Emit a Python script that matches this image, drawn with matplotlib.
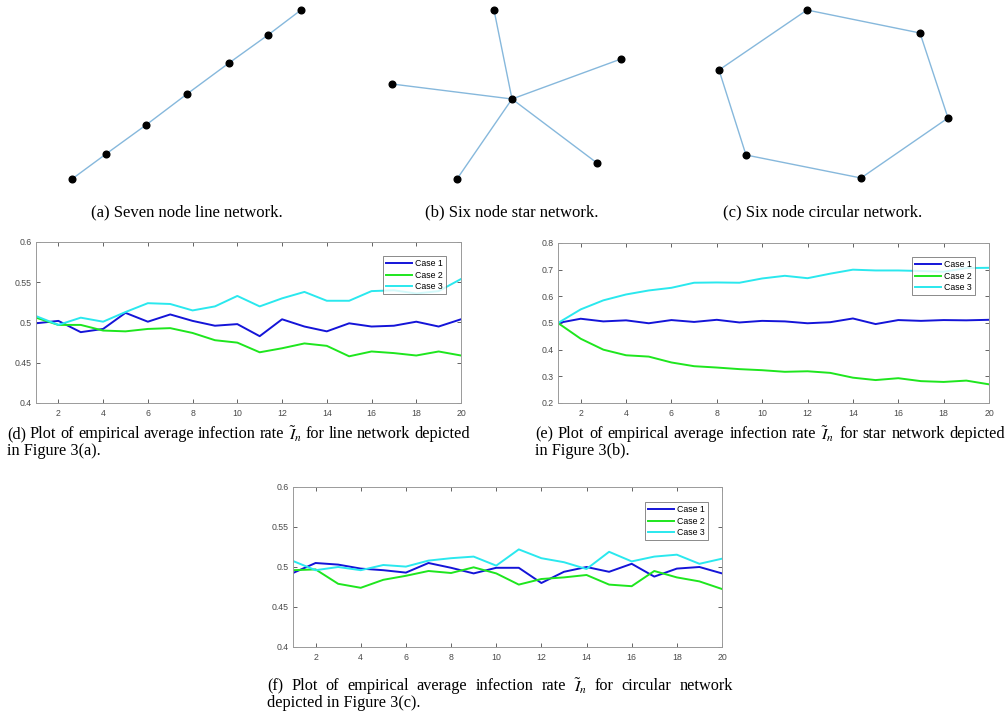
import numpy as np
import matplotlib
matplotlib.use("Agg")
import matplotlib.pyplot as plt

plt.rcParams["mathtext.fontset"] = "stix"

W, H = 1008, 713

# ---- network layouts (node positions, y grows downward) ----
line_nodes_x = [72, 106, 146, 187, 229, 268, 301]
line_nodes_y = [179, 154, 125, 94, 63, 35, 10]
line_edges = [(0, 1), (1, 2), (2, 3), (3, 4), (4, 5), (5, 6)]

star_nodes_x = [512, 494, 621, 392, 457, 597]
star_nodes_y = [99, 10, 59, 84, 179, 163]
star_edges = [(0, 1), (0, 2), (0, 3), (0, 4), (0, 5)]

circ_nodes_x = [807, 920, 948, 861, 746, 719]
circ_nodes_y = [10, 33, 118, 178, 155, 70]
circ_edges = [(0, 1), (1, 2), (2, 3), (3, 4), (4, 5), (5, 0)]

# ---- infection rate curves ----
steps = list(range(1, 21))
labels = ["Case 1", "Case 2", "Case 3"]

line_case1 = [0.499, 0.502, 0.488, 0.492, 0.512, 0.501, 0.510, 0.502, 0.496, 0.498,
              0.483, 0.504, 0.495, 0.489, 0.499, 0.495, 0.496, 0.501, 0.495, 0.504]
line_case2 = [0.506, 0.497, 0.497, 0.490, 0.489, 0.492, 0.493, 0.487, 0.478, 0.475,
              0.463, 0.468, 0.474, 0.471, 0.458, 0.464, 0.462, 0.459, 0.464, 0.459]
line_case3 = [0.508, 0.497, 0.506, 0.501, 0.513, 0.524, 0.523, 0.515, 0.520, 0.533,
              0.520, 0.530, 0.538, 0.527, 0.527, 0.539, 0.540, 0.536, 0.539, 0.554]

star_case1 = [0.500, 0.516, 0.506, 0.510, 0.499, 0.511, 0.504, 0.512, 0.502, 0.508,
              0.506, 0.499, 0.503, 0.517, 0.496, 0.511, 0.508, 0.511, 0.510, 0.512]
star_case2 = [0.500, 0.441, 0.400, 0.379, 0.374, 0.352, 0.338, 0.333, 0.327, 0.323,
              0.317, 0.319, 0.313, 0.295, 0.286, 0.293, 0.282, 0.279, 0.284, 0.270]
star_case3 = [0.500, 0.551, 0.585, 0.607, 0.622, 0.632, 0.651, 0.652, 0.651, 0.667,
              0.677, 0.668, 0.685, 0.700, 0.697, 0.697, 0.695, 0.692, 0.706, 0.707]

circ_case1 = [0.4925, 0.505, 0.503, 0.498, 0.496, 0.493, 0.505, 0.499, 0.492, 0.499,
              0.499, 0.480, 0.494, 0.500, 0.494, 0.504, 0.488, 0.498, 0.500, 0.492]
circ_case2 = [0.496, 0.497, 0.479, 0.474, 0.484, 0.489, 0.495, 0.4925, 0.4996, 0.492,
              0.478, 0.485, 0.487, 0.490, 0.478, 0.476, 0.495, 0.487, 0.482, 0.4725]
circ_case3 = [0.5075, 0.496, 0.500, 0.496, 0.5025, 0.5005, 0.508, 0.511, 0.513, 0.5017,
              0.522, 0.511, 0.506, 0.4975, 0.519, 0.507, 0.513, 0.5154, 0.504, 0.5104]

line_colors = ["#1414d8", "#1ee61e", "#2ae8ee"]

fig = plt.figure(figsize=(W / 100, H / 100), dpi=100)
fig.patch.set_facecolor("white")


def px_axes(left, top, right, bottom):
    return fig.add_axes([left / W, 1 - bottom / H, (right - left) / W, (bottom - top) / H])


# network drawings share one transparent overlay in pixel units
net_ax = px_axes(0, 0, W, 200)
net_ax.set_xlim(0, W)
net_ax.set_ylim(200, 0)
net_ax.axis("off")
for xs, ys, edges in [(line_nodes_x, line_nodes_y, line_edges),
                      (star_nodes_x, star_nodes_y, star_edges),
                      (circ_nodes_x, circ_nodes_y, circ_edges)]:
    for a, b in edges:
        net_ax.plot([xs[a], xs[b]], [ys[a], ys[b]], color="#86b8dc", lw=1.0, zorder=1)
    net_ax.plot(xs, ys, "o", color="black", ms=4.8, zorder=2, clip_on=False)

serif = ["Liberation Serif", "DejaVu Serif"]
sans = ["Liberation Sans", "DejaVu Sans"]
cap_size = 11.7
for cx, txt in [(187, "(a) Seven node line network."),
                (512, "(b) Six node star network."),
                (823, "(c) Six node circular network.")]:
    fig.text(cx / W, 1 - 212 / H, txt, ha="center", va="center",
             family=serif, fontsize=12)


def plot_panel(box, yticks, ylabels, series, legend_offset):
    ax = px_axes(*box)
    for vals, lab, col in zip(series, labels, line_colors):
        ax.plot(steps, vals, color=col, lw=1.4, label=lab)
    ax.set_xlim(1, 20)
    ax.set_ylim(yticks[0], yticks[-1])
    ax.set_xticks(range(2, 21, 2))
    ax.set_yticks(yticks)
    ax.set_yticklabels(ylabels)
    ax.tick_params(direction="in", length=3, width=0.6, top=True, right=True,
                   labelsize=6.3, colors="#4a4a4a")
    ax.tick_params(axis="x", pad=4.5)
    ax.tick_params(axis="y", pad=3)
    for sp in ax.spines.values():
        sp.set_color("#9a9a9a")
        sp.set_linewidth(0.7)
    for t in ax.get_xticklabels() + ax.get_yticklabels():
        t.set_family(sans)
    width = box[2] - box[0]
    height = box[3] - box[1]
    leg = ax.legend(loc="upper right",
                    bbox_to_anchor=(1 - legend_offset[0] / width, 1 - legend_offset[1] / height),
                    frameon=True, fancybox=False, borderaxespad=0,
                    handlelength=2.9, handletextpad=0.4, labelspacing=0.3, borderpad=0.35,
                    prop={"family": sans, "size": 6.3})
    leg.get_frame().set_edgecolor("#555555")
    leg.get_frame().set_linewidth(0.6)
    return ax


plot_panel((36, 242, 461, 403), [0.4, 0.45, 0.5, 0.55, 0.6],
           ["0.4", "0.45", "0.5", "0.55", "0.6"],
           [line_case1, line_case2, line_case3], (15, 14))
plot_panel((558, 243, 989, 403), [0.2, 0.3, 0.4, 0.5, 0.6, 0.7, 0.8],
           ["0.2", "0.3", "0.4", "0.5", "0.6", "0.7", "0.8"],
           [star_case1, star_case2, star_case3], (14, 14))
plot_panel((293, 487, 722, 647), [0.4, 0.45, 0.5, 0.55, 0.6],
           ["0.4", "0.45", "0.5", "0.55", "0.6"],
           [circ_case1, circ_case2, circ_case3], (14, 15))

renderer = fig.canvas.get_renderer()


def justified(words, x0, x1, y):
    # place words so the line fills x0..x1 like a justified LaTeX line
    items = [fig.text(0, 1 - y / H, w, ha="left", va="center", family=serif,
                      fontsize=cap_size) for w in words]
    widths = [t.get_window_extent(renderer).width for t in items]
    gap = (x1 - x0 - sum(widths)) / (len(words) - 1)
    x = x0
    for t, w in zip(items, widths):
        t.set_x(x / W)
        x += w + gap


cap_d = "(d) Plot of empirical average infection rate $\\tilde{I}_n$ for line network depicted"
cap_e = "(e) Plot of empirical average infection rate $\\tilde{I}_n$ for star network depicted"
cap_f = "(f) Plot of empirical average infection rate $\\tilde{I}_n$ for circular network"

justified(cap_d.split(" "), 7, 470, 434)
fig.text(7 / W, 1 - 451 / H, "in Figure 3(a).", ha="left", va="center",
         family=serif, fontsize=cap_size)
justified(cap_e.split(" "), 535, 1005, 434)
fig.text(535 / W, 1 - 451 / H, "in Figure 3(b).", ha="left", va="center",
         family=serif, fontsize=cap_size)
justified(cap_f.split(" "), 267, 733, 686)
fig.text(267 / W, 1 - 703 / H, "depicted in Figure 3(c).", ha="left", va="center",
         family=serif, fontsize=cap_size)

fig.savefig("out.png", dpi=100)
